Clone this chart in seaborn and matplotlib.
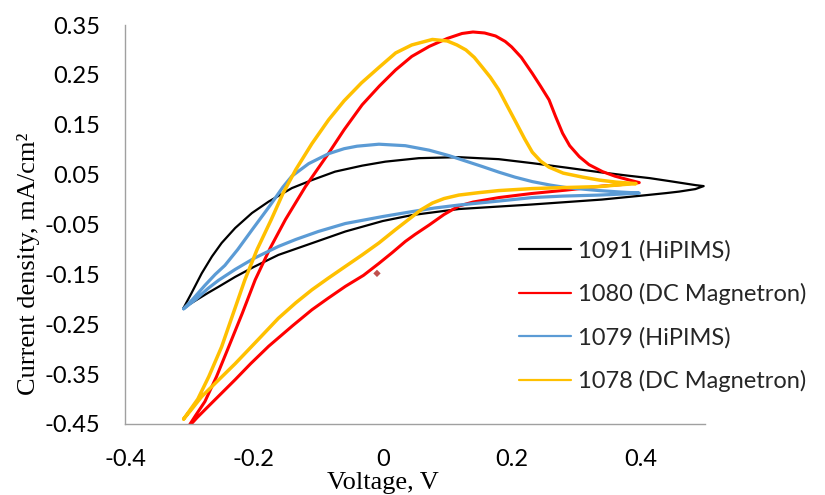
import matplotlib
matplotlib.use("Agg")
import matplotlib.pyplot as plt
import seaborn as sns
import pandas as pd

# ---------------- data ----------------
series_names = ["1091 (HiPIMS)", "1080 (DC Magnetron)", "1079 (HiPIMS)", "1078 (DC Magnetron)"]

v_1091 = [-0.309, -0.297, -0.281, -0.265, -0.250, -0.229, -0.203, -0.177, -0.141, -0.110, -0.074,
          -0.032, 0.004, 0.056, 0.118, 0.180, 0.232, 0.285, 0.336, 0.380, 0.414, 0.445, 0.465,
          0.485, 0.498,
          0.485, 0.460, 0.440, 0.410, 0.387, 0.340, 0.285, 0.230, 0.180, 0.118, 0.076, 0.046,
          0.000, -0.058, -0.100, -0.162, -0.200, -0.229, -0.255, -0.271, -0.290, -0.309]
j_1091 = [-0.217, -0.188, -0.148, -0.114, -0.087, -0.057, -0.027, -0.004, 0.023, 0.039, 0.056,
          0.068, 0.076, 0.083, 0.085, 0.081, 0.073, 0.064, 0.055, 0.048, 0.043, 0.037, 0.033,
          0.029, 0.027,
          0.021, 0.016, 0.013, 0.009, 0.006, 0.000, -0.005, -0.010, -0.014, -0.019, -0.026, -0.031,
          -0.043, -0.064, -0.083, -0.111, -0.135, -0.155, -0.175, -0.187, -0.202, -0.217]

v_1080 = [-0.303, -0.290, -0.276, -0.258, -0.239, -0.218, -0.198, -0.175, -0.151, -0.120, -0.084,
          -0.060, -0.032, -0.005, 0.020, 0.045, 0.072, 0.100, 0.123, 0.140, 0.158, 0.175, 0.190,
          0.200, 0.215, 0.232, 0.245, 0.258, 0.268, 0.279, 0.290, 0.305, 0.320, 0.341, 0.360,
          0.383, 0.398,
          0.370, 0.340, 0.285, 0.230, 0.180, 0.140, 0.118, 0.095, 0.072, 0.050, 0.035, 0.015,
          -0.006, -0.030, -0.058, -0.085, -0.110, -0.140, -0.177, -0.205, -0.229, -0.250, -0.271,
          -0.288, -0.303]
j_1080 = [-0.458, -0.432, -0.405, -0.355, -0.295, -0.228, -0.161, -0.098, -0.040, 0.026, 0.093,
          0.140, 0.190, 0.228, 0.260, 0.287, 0.307, 0.323, 0.333, 0.336, 0.334, 0.328, 0.317,
          0.306, 0.285, 0.253, 0.227, 0.200, 0.167, 0.133, 0.108, 0.086, 0.070, 0.056, 0.047,
          0.039, 0.034,
          0.030, 0.027, 0.019, 0.012, 0.004, -0.005, -0.013, -0.030, -0.051, -0.070, -0.084, -0.106,
          -0.128, -0.152, -0.174, -0.198, -0.221, -0.253, -0.294, -0.329, -0.361, -0.388, -0.415,
          -0.437, -0.458]

v_1079 = [-0.309, -0.295, -0.276, -0.260, -0.245, -0.225, -0.203, -0.175, -0.155, -0.141, -0.115,
          -0.084, -0.060, -0.040, -0.006, 0.035, 0.072, 0.103, 0.129, 0.155, 0.180, 0.205, 0.232,
          0.260, 0.285, 0.310, 0.336, 0.370, 0.398,
          0.370, 0.336, 0.280, 0.232, 0.180, 0.118, 0.080, 0.046, 0.000, -0.058, -0.100, -0.135,
          -0.162, -0.200, -0.229, -0.255, -0.271, -0.290, -0.309]
j_1079 = [-0.219, -0.200, -0.172, -0.150, -0.132, -0.100, -0.061, -0.012, 0.025, 0.047, 0.072,
          0.092, 0.102, 0.107, 0.111, 0.108, 0.099, 0.088, 0.077, 0.066, 0.055, 0.045, 0.036,
          0.029, 0.024, 0.021, 0.018, 0.015, 0.013,
          0.011, 0.009, 0.007, 0.004, -0.003, -0.011, -0.017, -0.024, -0.034, -0.048, -0.064, -0.080,
          -0.094, -0.118, -0.140, -0.162, -0.178, -0.200, -0.219]

v_1078 = [-0.309, -0.298, -0.287, -0.270, -0.250, -0.232, -0.214, -0.195, -0.173, -0.155, -0.135,
          -0.110, -0.084, -0.060, -0.033, -0.005, 0.020, 0.045, 0.077, 0.100, 0.115, 0.129, 0.142,
          0.154, 0.167, 0.180, 0.193, 0.207, 0.220, 0.232, 0.245, 0.258, 0.280, 0.310, 0.336,
          0.362, 0.393,
          0.362, 0.336, 0.280, 0.232, 0.180, 0.150, 0.118, 0.095, 0.077, 0.060, 0.046, 0.020,
          -0.006, -0.032, -0.058, -0.085, -0.110, -0.135, -0.162, -0.195, -0.229, -0.255, -0.281,
          -0.295, -0.309]
j_1078 = [-0.440, -0.420, -0.400, -0.355, -0.295, -0.228, -0.161, -0.100, -0.040, 0.012, 0.060,
          0.112, 0.160, 0.198, 0.234, 0.266, 0.294, 0.310, 0.321, 0.318, 0.310, 0.300, 0.285,
          0.266, 0.245, 0.220, 0.188, 0.154, 0.122, 0.095, 0.077, 0.065, 0.053, 0.045, 0.039,
          0.035, 0.032,
          0.029, 0.026, 0.024, 0.022, 0.018, 0.014, 0.009, 0.002, -0.007, -0.020, -0.034, -0.060,
          -0.087, -0.111, -0.134, -0.158, -0.181, -0.207, -0.238, -0.283, -0.329, -0.362, -0.395,
          -0.418, -0.440]

marker_v = [-0.009]
marker_j = [-0.148]

x_ticks = [-0.4, -0.2, 0.0, 0.2, 0.4]
x_tick_labels = ["-0.4", "-0.2", "0", "0.2", "0.4"]
y_ticks = [0.35, 0.25, 0.15, 0.05, -0.05, -0.15, -0.25, -0.35, -0.45]
y_tick_labels = ["0.35", "0.25", "0.15", "0.05", "-0.05", "-0.15", "-0.25", "-0.35", "-0.45"]

# ---------------- styling ----------------
sns.set_theme(style="white")
plt.rcParams["font.family"] = ["Lato", "DejaVu Sans"]

colors = {"1091 (HiPIMS)": "#000000", "1080 (DC Magnetron)": "#FF0000",
          "1079 (HiPIMS)": "#5B9BD5", "1078 (DC Magnetron)": "#FFC000"}
widths = {"1091 (HiPIMS)": 1.6, "1080 (DC Magnetron)": 2.2,
          "1079 (HiPIMS)": 2.3, "1078 (DC Magnetron)": 2.5}

frames = []
for name, v, j in zip(series_names, [v_1091, v_1080, v_1079, v_1078],
                      [j_1091, j_1080, j_1079, j_1078]):
    frames.append(pd.DataFrame({"V": v, "J": j, "series": name, "order": range(len(v))}))
df = pd.concat(frames, ignore_index=True)

fig, ax = plt.subplots(figsize=(8.25, 4.95), dpi=100)
fig.subplots_adjust(left=125 / 825, right=705 / 825, top=1 - 25 / 495, bottom=1 - 424 / 495)

for name in series_names:
    sub = df[df["series"] == name]
    sns.lineplot(data=sub, x="V", y="J", sort=False, estimator=None, color=colors[name],
                 linewidth=widths[name], label=name, ax=ax)
for line in ax.get_lines():
    line.set_solid_joinstyle("round")
    line.set_solid_capstyle("round")

sns.scatterplot(x=marker_v, y=marker_j, marker="D", s=14, color="#C0504D", edgecolor="none",
                ax=ax, legend=False)

ax.set_xlim(-0.4, 0.5)
ax.set_ylim(-0.45, 0.35)
ax.set_xticks(x_ticks)
ax.set_xticklabels(x_tick_labels)
ax.set_yticks(y_ticks)
ax.set_yticklabels(y_tick_labels)
ax.tick_params(axis="both", length=0, labelsize=17, colors="#000000")
ax.tick_params(axis="y", pad=18)
ax.tick_params(axis="x", pad=18)

for side in ["top", "right"]:
    ax.spines[side].set_visible(False)
for side in ["left", "bottom"]:
    ax.spines[side].set_color("#A0A0A0")
    ax.spines[side].set_linewidth(1.0)

serif = ["Liberation Serif", "DejaVu Serif"]
ax.set_xlabel("Voltage, V", family=serif, fontsize=19, color="#000000")
ax.set_ylabel("Current density, mA/cm²", family=serif, fontsize=19, color="#000000")
ax.xaxis.set_label_coords((383 - 125) / 580, (424 - 472) / 399)
ax.yaxis.set_label_coords((40 - 125) / 580, (424 - 264) / 399)

leg = ax.legend(frameon=False, loc="upper left",
                bbox_to_anchor=(519 / 825, 1 - 240 / 495), bbox_transform=fig.transFigure,
                borderpad=0, borderaxespad=0, handlelength=2.2, handletextpad=0.3,
                labelspacing=0.92, prop={"family": ["Lato", "DejaVu Sans"], "size": 17})
for line in leg.get_lines():
    line.set_linewidth(1.6)

fig.savefig("out.png", dpi=100)
